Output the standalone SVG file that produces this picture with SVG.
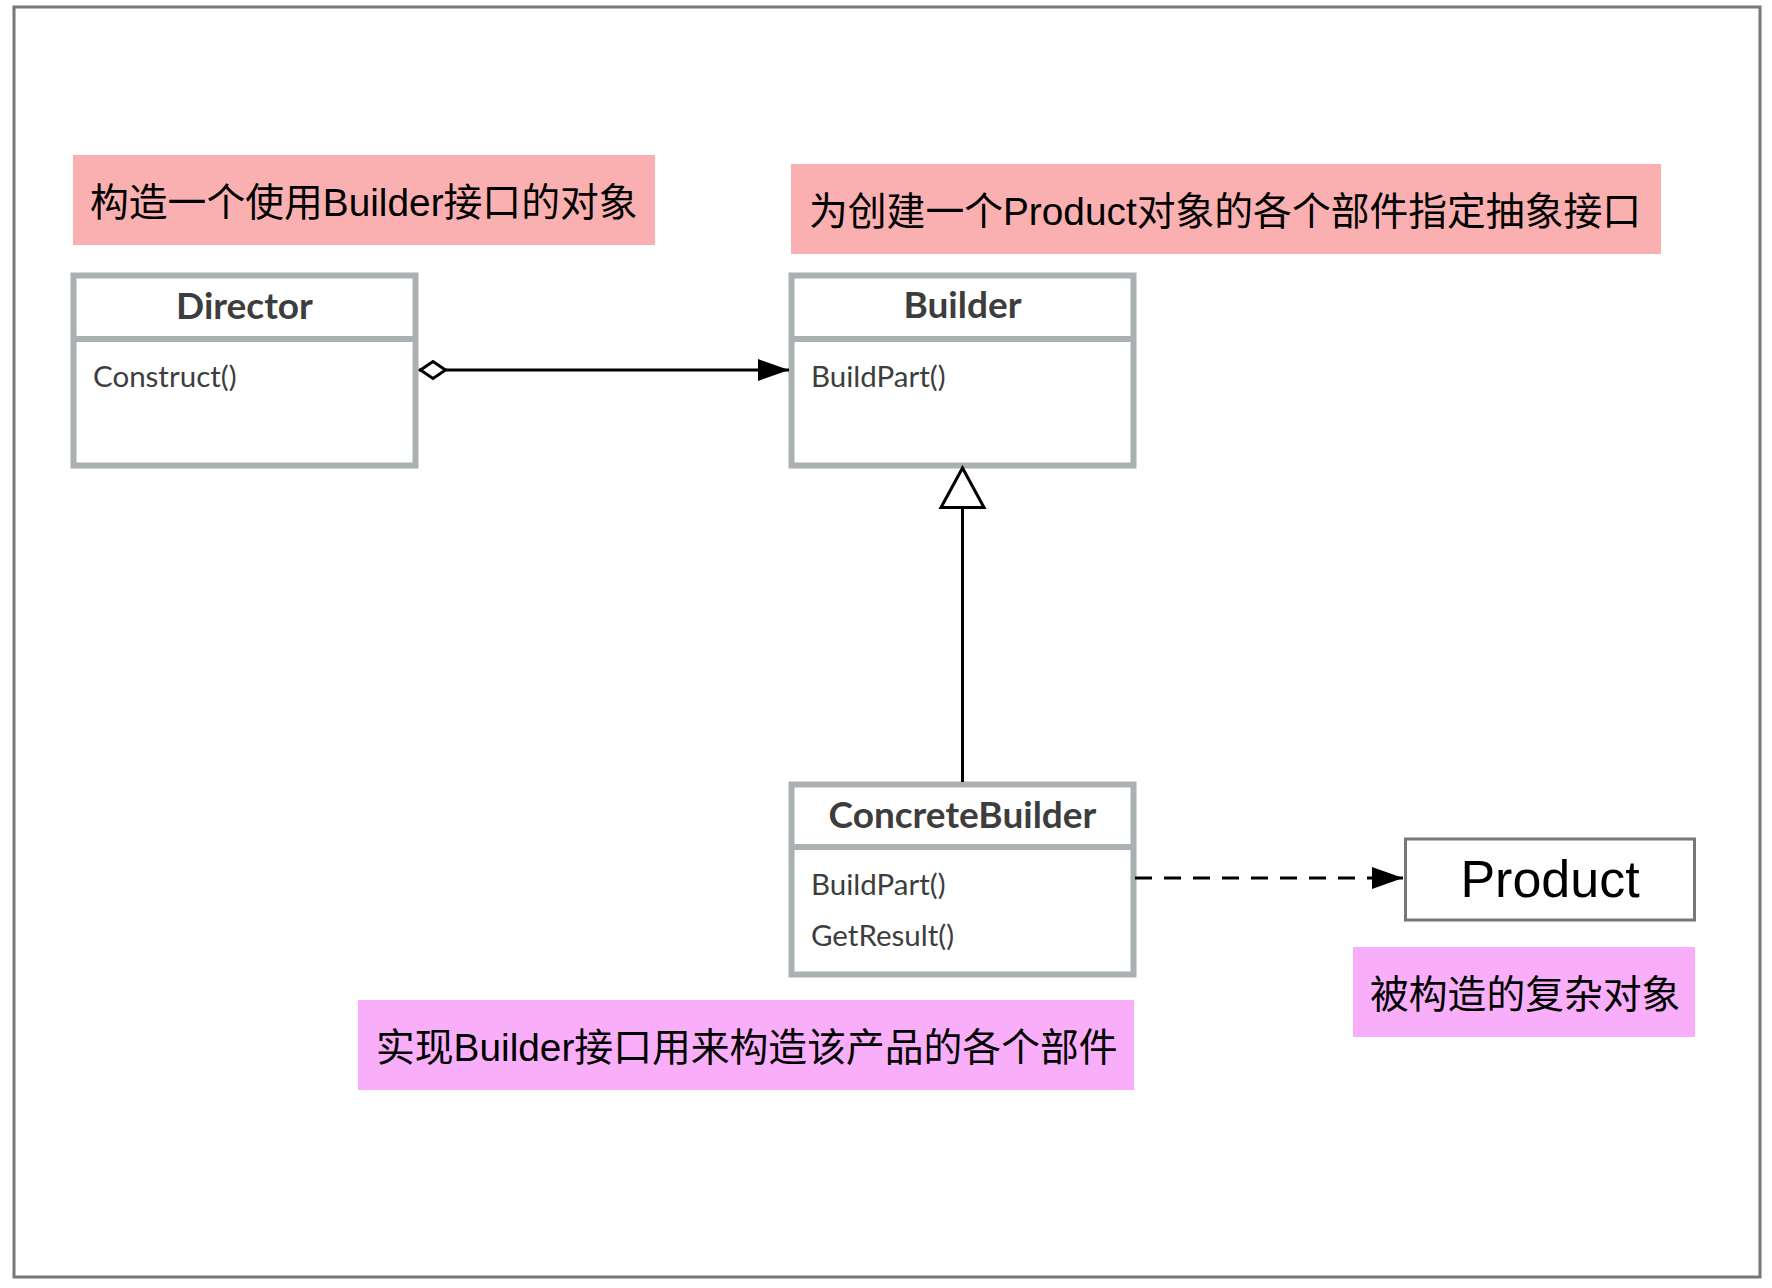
<svg xmlns="http://www.w3.org/2000/svg" width="1772" height="1288" viewBox="0 0 1772 1288">
<style>
.frame{fill:#ffffff;stroke:#777777;stroke-width:3}
.note1{fill:#fab0b1}
.note2{fill:#f9aefa}
.notetxt{font-family:"Liberation Sans","Noto Sans CJK SC",sans-serif;font-size:38.8px;fill:#000000}
.cls{fill:#ffffff;stroke:#abb1b2;stroke-width:6}
.div{stroke:#abb1b2;stroke-width:6}
.title{font-family:Lato,"Noto Sans",sans-serif;font-weight:700;font-size:37px;fill:#3d3d3d;text-anchor:middle}
.op{font-family:Lato,"Noto Sans",sans-serif;font-size:29.5px;fill:#3d3d3d}
.conn{stroke:#000000;stroke-width:3;fill:none}
.prod{fill:#ffffff;stroke:#777777;stroke-width:3}
.prodtxt{font-family:"Liberation Sans",Arial,sans-serif;font-size:52px;fill:#000000;text-anchor:middle}
</style>
<defs>
<marker id="arrow" markerUnits="userSpaceOnUse" markerWidth="32" markerHeight="24" refX="31" refY="11" orient="auto" overflow="visible">
<path d="M0,0 L31,11 L0,22 z" fill="#000000"/>
</marker>
<marker id="diamond" markerUnits="userSpaceOnUse" markerWidth="30" markerHeight="24" refX="0" refY="10" orient="auto" overflow="visible">
<path d="M1.5,10 L14,1.5 L26.5,10 L14,18.5 z" fill="#ffffff" stroke="#000000" stroke-width="3"/>
</marker>
<marker id="tri" markerUnits="userSpaceOnUse" markerWidth="44" markerHeight="50" refX="41" refY="23" orient="auto" overflow="visible">
<path d="M1.5,1.5 L41,23 L1.5,44.5 z" fill="#ffffff" stroke="#000000" stroke-width="3"/>
</marker>
</defs>
<rect class="frame" x="14" y="7" width="1746" height="1270"/>

<g id="note-director">
<rect class="note1" x="73" y="155" width="582" height="90"/>
<text class="notetxt" x="90" y="216">构造一个使用Builder接口的对象</text>
</g>
<g id="note-builder">
<rect class="note1" x="791" y="164" width="870" height="90"/>
<text class="notetxt" x="809" y="225">为创建一个Product对象的各个部件指定抽象接口</text>
</g>
<g id="note-concrete">
<rect class="note2" x="358" y="1000" width="776" height="90"/>
<text class="notetxt" x="376" y="1061">实现Builder接口用来构造该产品的各个部件</text>
</g>
<g id="note-product">
<rect class="note2" x="1353" y="947" width="342" height="90"/>
<text class="notetxt" x="1370" y="1008">被构造的复杂对象</text>
</g>

<g id="director">
<rect class="cls" x="73.5" y="275.5" width="342" height="190"/>
<line class="div" x1="73.5" y1="339" x2="415.5" y2="339"/>
<text class="title" x="244.5" y="319">Director</text>
<text class="op" x="93" y="387">Construct()</text>
</g>
<g id="builder">
<rect class="cls" x="791.5" y="275.5" width="342" height="190"/>
<line class="div" x1="791.5" y1="339" x2="1133.5" y2="339"/>
<text class="title" x="962.5" y="318">Builder</text>
<text class="op" x="811" y="387">BuildPart()</text>
</g>
<g id="concretebuilder">
<rect class="cls" x="791.5" y="784.5" width="342" height="190"/>
<line class="div" x1="791.5" y1="847" x2="1133.5" y2="847"/>
<text class="title" x="962.5" y="828">ConcreteBuilder</text>
<text class="op" x="811" y="895">BuildPart()</text>
<text class="op" x="811" y="946">GetResult()</text>
</g>
<g id="product">
<rect class="prod" x="1405.5" y="839" width="289" height="81"/>
<text class="prodtxt" x="1550" y="897">Product</text>
</g>

<g id="connectors">
<line class="conn" x1="419" y1="370" x2="789" y2="370" marker-start="url(#diamond)" marker-end="url(#arrow)"/>
<line class="conn" x1="962.5" y1="782" x2="962.5" y2="468" marker-end="url(#tri)"/>
<line class="conn" x1="1135" y1="878" x2="1403" y2="878" stroke-dasharray="17 12" marker-end="url(#arrow)"/>
</g>
</svg>
